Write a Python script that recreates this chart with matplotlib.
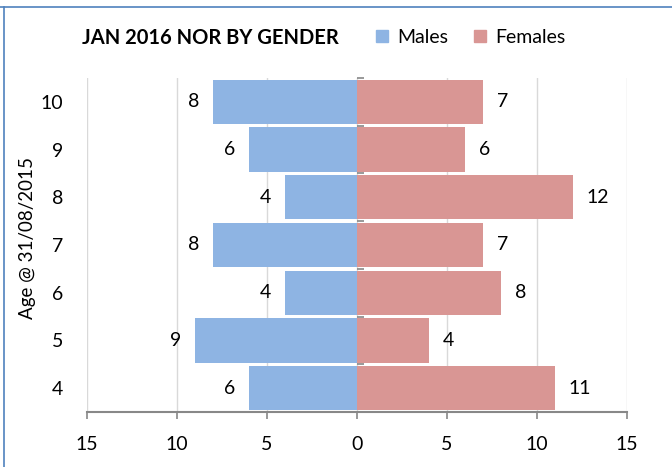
import matplotlib.pyplot as plt
from matplotlib.lines import Line2D
from matplotlib.patches import Patch
import numpy as np

ages = ['4', '5', '6', '7', '8', '9', '10']
males = [6, 9, 4, 8, 4, 6, 8]
females = [11, 4, 8, 7, 12, 6, 7]
xticks = [-15, -10, -5, 0, 5, 10, 15]

male_col = '#8EB4E3'
female_col = '#D99694'

plt.rcParams['font.family'] = ['Lato', 'DejaVu Sans']

fig = plt.figure(figsize=(6.72, 4.67), dpi=100)
ax = fig.add_axes([0.1295, 0.1178, 0.8035, 0.7152])

y = np.arange(len(ages))
mbars = ax.barh(y, [-m for m in males], height=0.93, color=male_col, zorder=2)
fbars = ax.barh(y, females, height=0.93, color=female_col, zorder=2)
ax.bar_label(mbars, labels=[str(m) for m in males], padding=10, fontsize=14)
ax.bar_label(fbars, labels=[str(f) for f in females], padding=10, fontsize=14)

ax.set_xlim(-15, 15)
ax.set_ylim(-0.5, len(ages) - 0.5)
ax.set_xticks(xticks)
ax.set_xticklabels([str(abs(t)) for t in xticks], fontsize=14)
ax.set_yticks(y)
ax.set_yticklabels(ages, fontsize=14)
ax.tick_params(axis='y', length=0, pad=17)
ax.tick_params(axis='x', length=5, color='#888888', width=1.2, pad=12)
ax.set_ylabel('Age @ 31/08/2015', fontsize=13.5)
ax.yaxis.set_label_coords(-0.094, 0.52)

for s in ['top', 'right', 'left']:
    ax.spines[s].set_visible(False)
ax.spines['bottom'].set_color('#888888')
ax.spines['bottom'].set_linewidth(1.5)

ax.grid(axis='x', color='#D9D9D9', linewidth=1, zorder=0)

# zero axis with small ticks between categories
sec = ax.secondary_yaxis(0.5)
sec.set_yticks(np.arange(-0.5, len(ages), 1.0))
sec.set_yticklabels([])
sec.tick_params(length=5, direction='out', color='#888888', width=1.2)
sec.spines['right'].set_visible(False)
sec.spines['left'].set_color('#888888')
sec.spines['left'].set_linewidth(1.5)
sec.set_zorder(3)

fig.text(0.122, 0.918, 'JAN 2016 NOR BY GENDER', fontsize=14.5, fontweight='bold',
         va='center', ha='left')
handles = [Patch(color=male_col, label='Males'), Patch(color=female_col, label='Females')]
fig.legend(handles=handles, loc='center left', bbox_to_anchor=(0.5595, 0.92), ncol=2,
           frameon=False, fontsize=14, handlelength=0.62, handleheight=0.62,
           handletextpad=0.45, columnspacing=1.35, borderpad=0, borderaxespad=0)

# outer chart border (top and left visible)
fig.add_artist(Line2D([0, 1], [0.985, 0.985], transform=fig.transFigure, color='#4F81BD', lw=1.2))
fig.add_artist(Line2D([0.006, 0.006], [0, 0.985], transform=fig.transFigure, color='#4F81BD', lw=1.2))

fig.savefig('out.png', dpi=100)
